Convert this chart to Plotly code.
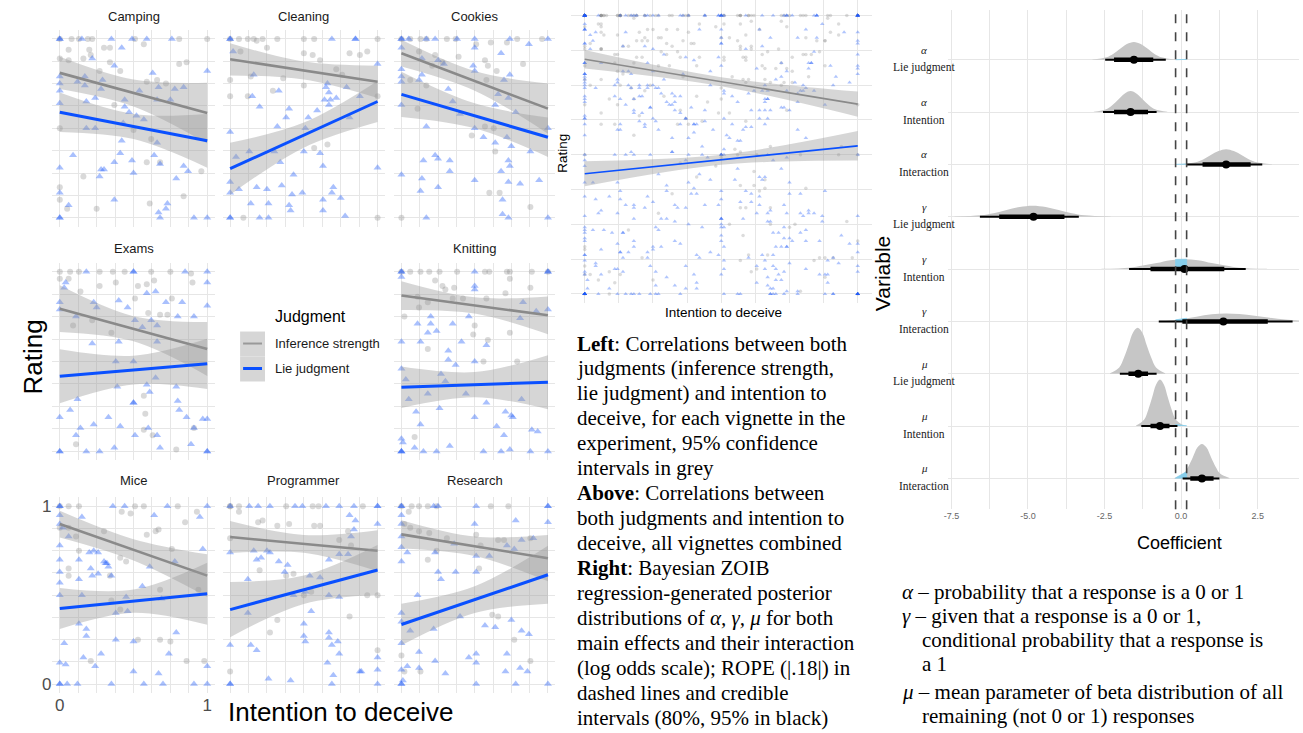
import plotly.graph_objects as go

W, H = 1303, 733

# ---------------- facet data (x = intention to deceive, y = rating) ----------------
vignettes = ["Camping", "Cleaning", "Cookies", "Exams", "Knitting", "Mice", "Programmer", "Research"]
panel_row = [0, 0, 0, 1, 1, 2, 2, 2]
panel_col = [0, 1, 2, 0, 2, 0, 1, 2]

camping_lie = [(0,1),(0,1),(0.15,1),(0.35,1),(0.49,1),(0.59,1),(0.76,1),(0.42,0.95),(0.22,0.89),(0.37,0.85),(0.63,0.81),(1,0.82),(0,0.79),(0,0.75),(0,0.71),(0,0.64),(0.17,0.79),(0.29,0.77),(0.12,0.76),(0.17,0.74),(0.24,0.67),(0.18,0.65),(0.28,0.72),(0.54,0.71),(0.67,0.73),(0.78,0.72),(0.84,0.73),(0.66,0.66),(0.75,0.66),(0.44,0.66),(0.44,0.62),(0.47,0.59),(0.52,0.57),(0.57,0.55),(0.43,0.53),(0.18,0.50),(0.24,0.50),(0.42,0.43),(0.66,0.42),(0.64,0.35),(0.68,0.30),(0.41,0.36),(0.37,0.31),(0.49,0.32),(0.09,0.35),(0,0.28),(0.28,0.27),(0.27,0.23),(0.30,0.27),(0.50,0.25),(0.84,0.29),(0.87,0.26),(0.79,0.22),(0,0.14),(0.06,0.07),(0.37,0.10),(0.73,0.08),(0.72,0.05),(0.67,0.03),(0.68,0),(0,0),(0,0),(0.91,0),(1,0)]
camping_inf = [(0,1),(0.08,1),(0.13,1),(0.19,1),(0.22,1),(0.51,1),(1,1),(0.81,1),(0.06,0.94),(0.20,0.94),(0.30,0.95),(0.34,0.95),(0.57,0.97),(0,0.89),(0.06,0.88),(0.16,0.89),(0.21,0.91),(0.34,0.87),(0.41,0.82),(0.81,0.86),(0.86,0.87),(0.27,0.82),(0.59,0.76),(0.66,0.77),(0.72,0.75),(0.37,0.63),(0,0.50),(0.50,0.49),(0.62,0.44),(0.59,0.31),(0.68,0.31),(0.16,0.23),(0.96,0.26),(0,0.17),(0,0.10),(0.84,0.12),(0.05,0.05),(0.25,0.05),(0.61,0.08)]

cleaning_lie = [(0,1),(0,1),(0.69,1),(0.85,1),(0.85,1),(1,0.86),(0.02,0.93),(0.16,0.80),(0.33,0.71),(0.15,0.68),(0.20,0.62),(0.38,0.56),(0.40,0.61),(0.32,0.51),(0.51,0.50),(0.53,0.56),(0.59,0.60),(0.65,0.73),(0.67,0.70),(0.68,0.66),(0.67,0.63),(0.72,0.67),(0.79,0.73),(0.81,0.56),(0.88,0.68),(0,0.48),(0.04,0.34),(0.13,0.37),(0.30,0.37),(0.34,0.31),(0.43,0.24),(0.50,0.37),(0.61,0.36),(0.63,0.29),(0,0.20),(0,0.14),(0.06,0.16),(0.18,0.17),(0.25,0.16),(0.35,0.18),(0.42,0.13),(0.49,0.14),(0.69,0.14),(0.70,0.17),(0.75,0.11),(0.63,0.10),(0.14,0.08),(0.26,0.08),(0.40,0.07),(0.41,0.04),(0.63,0.04),(0,0),(0,0),(0.20,0),(0.26,0),(0.78,0.01),(1,0.28),(0.66,0.75),(0.64,0.66)]
cleaning_inf = [(0,1),(0.06,1),(0.12,1),(0.16,1),(0.22,1),(0.32,1),(0.50,1),(0.57,1),(1,1),(0.07,0.93),(0.25,0.95),(0.18,0.99),(0.50,0.92),(0.56,0.91),(0.61,0.88),(0.81,0.92),(0.88,0.91),(0.93,0.93),(0,0.77),(0.14,0.79),(0.36,0.78),(0.29,0.71),(0.50,0.74),(0.72,0.83),(0.76,0.80),(0.66,0.41),(0.57,0.39),(0,0.68),(0.12,0.68),(1,0.68),(0.09,0),(1,0)]

cookies_lie = [(0,1),(0,1),(0.05,1),(0.17,1),(0.23,1),(0.38,1),(0.50,1),(0.74,1),(1,1),(0.87,0.97),(0.50,0.95),(0.68,0.92),(0,0.95),(0,0.83),(0,0.79),(0,0.76),(0,0.63),(0.14,0.89),(0.25,0.88),(0.29,0.86),(0.49,0.85),(0.14,0.80),(0.12,0.77),(0.32,0.72),(0.35,0.65),(0.40,0.58),(0.50,0.82),(0.66,0.69),(0.70,0.77),(0.74,0.80),(0.73,0.67),(0.64,0.63),(0.78,0.59),(0.17,0.51),(0.50,0.50),(0.56,0.45),(0.64,0.42),(0.72,0.45),(0.75,0.40),(0.88,0.37),(1,0.50),(0.15,0.32),(0.23,0.35),(0.25,0.33),(0.33,0.32),(0.33,0.26),(0.68,0.26),(0.73,0.32),(0.74,0.29),(0,0.24),(0.14,0.22),(0.13,0.15),(0.25,0.17),(0.50,0.21),(0.73,0.20),(0.81,0.19),(0.94,0.21),(0.69,0.10),(0.17,0),(0.69,0.02),(0.73,0),(1,0)]
cookies_inf = [(0,1),(0.06,1),(0.13,1),(0.17,1),(0.31,1),(0.37,1),(0.51,0.97),(0.61,0.98),(0.72,0.98),(0.79,1),(0.96,1),(0.12,0.93),(0.23,0.91),(0.39,0.90),(0.21,0.85),(0.28,0.87),(0.57,0.88),(0.59,0.85),(0.83,0.86),(0.65,0.82),(0.06,0.77),(0.17,0.74),(0.58,0.77),(0.11,0.61),(0.48,0.46),(0.57,0.51),(0.63,0.50),(0.64,0.37),(0.60,0.14),(0.67,0.14),(0.88,0.06),(0,0)]

exams_lie = [(0.18,1),(0.50,1),(0.50,1),(0.85,1),(1,1),(0.04,0.94),(1,0.94),(0.03,0.91),(0,0.83),(0,0.79),(0.11,0.75),(0.23,0.83),(0.25,0.80),(0.40,0.84),(0.46,0.80),(0.59,0.88),(0.65,0.89),(0.72,0.83),(0.83,0.83),(0.80,0.75),(0.91,0.75),(1,0.81),(0.51,0.73),(0.62,0.73),(0.66,0.70),(0.56,0.69),(0.22,0.60),(0.40,0.61),(0.66,0.61),(0.38,0.50),(0.50,0.50),(0.65,0.41),(0.39,0.36),(0.61,0.33),(0.59,0.37),(0.79,0.36),(0.50,0.27),(0.50,0.27),(0.12,0.29),(0.07,0.23),(0,0.19),(0.33,0.19),(0.80,0.28),(0.81,0.23),(0.86,0.19),(0.97,0.18),(1,0.18),(0.14,0.13),(0.11,0.09),(0.23,0.15),(0.41,0.14),(0.51,0.09),(0.60,0.13),(0.66,0.09),(0.91,0.13),(0,0),(0,0),(0.18,0),(0.27,0),(0.37,0.02),(0.68,0.02),(0.89,0.04),(1,0),(1,0)]
exams_inf = [(0,1),(0.07,1),(0.13,1),(0.27,1),(0.36,1),(0.44,1),(0.62,1),(0.75,1),(0,0.96),(0.06,0.96),(0.89,0.99),(0.90,0.94),(0.27,0.92),(0.38,0.94),(0.53,0.92),(0.59,0.93),(0.64,0.95),(0.14,0.89),(0.51,0.85),(0.76,0.85),(0.09,0.70),(0.22,0.73),(0.35,0.66),(0.60,0.77),(0.68,0.76),(0.73,0.76),(0.57,0.31),(0.58,0.21),(0.63,0.09),(0.57,0.12),(0.11,0.04),(0.79,0.01),(0.91,0.13)]

knitting_lie = [(0,1),(0,1),(0,0.97),(0.50,1),(1,1),(1,1),(0.50,0.92),(0.50,0.90),(0.83,0.83),(1,0.79),(0.92,0.78),(0.81,0.74),(0.46,0.75),(0.20,0.75),(0.11,0.71),(0.20,0.71),(0.18,0.66),(0.24,0.67),(0.35,0.71),(0,0.61),(0.13,0.61),(0.41,0.61),(0.58,0.59),(0.32,0.56),(0.32,0.51),(0.37,0.48),(0.50,0.50),(0,0.46),(0.03,0.40),(0.27,0.43),(0.30,0.39),(0.18,0.32),(0.05,0.29),(0.44,0.32),(0.58,0.27),(0.82,0.29),(0.10,0.22),(0.26,0.24),(0.50,0.19),(0.71,0.22),(0.75,0.20),(0.76,0.19),(0.13,0.15),(0.65,0.14),(0.70,0.09),(0.89,0.12),(0.93,0.11),(0,0.07),(0.01,0.05),(0.09,0.02),(0.33,0.03),(0,0),(0,0),(0,0),(0.15,0),(0.24,0),(0.56,0),(0.68,0),(0.74,0.01),(0.88,0),(1,0)]
knitting_inf = [(0,1),(0.06,1),(0.13,1),(0.19,1),(0.26,1),(0.38,1),(0.57,1),(0.60,1),(0.72,1),(0.74,1),(0.89,1),(1,1),(0.23,0.95),(0.28,0.92),(0.30,0.90),(0.36,0.91),(0.71,0.88),(0.74,0.96),(0.88,0.91),(0.11,0.86),(0.18,0.83),(0.12,0.80),(0.35,0.85),(0.42,0.85),(0.58,0.85),(0.02,0.75),(0.50,0.70),(0.49,0.65),(0.74,0.66),(0.59,0.62),(0.18,0.57),(0.56,0.50),(0.79,0.50),(0.09,0.08)]

mice_lie = [(0,1),(0,1),(0.36,1),(0.44,1),(0.73,1),(1,1),(0.15,0.94),(0.64,0.95),(0.95,0.94),(0,0.95),(0,0.90),(0.02,0.88),(0.06,0.83),(0,0.78),(0,0.70),(0,0.63),(0,0.57),(0,0.50),(0.13,0.70),(0.20,0.74),(0.23,0.75),(0.26,0.74),(0.31,0.68),(0.33,0.66),(0.30,0.69),(0.32,0.68),(0.21,0.65),(0.22,0.61),(0.13,0.59),(0.15,0.50),(0.26,0.62),(0.35,0.61),(0.56,0.55),(0.61,0.66),(0.78,0.69),(0.97,0.76),(0.45,0.49),(0.46,0.41),(0.38,0.40),(0.69,0.48),(0.13,0.34),(0.18,0.31),(0.18,0.27),(0.03,0.23),(0.38,0.25),(0.50,0.24),(0.79,0.29),(0.28,0.17),(0.16,0.15),(0.24,0.10),(0,0.12),(0.04,0.11),(0.74,0.17),(0.50,0.07),(0.67,0.06),(1,0.10),(0,0),(0,0),(0.05,0),(0.12,0),(0.35,0),(0.57,0),(0.70,0),(0.91,0),(1,0)]
mice_inf = [(0,1),(0.06,1),(0.13,1),(0.51,1),(0.57,1),(0.80,1),(0.42,0.97),(0.48,0.96),(0.93,0.97),(0,0.88),(0.06,0.88),(0.11,0.83),(0.30,0.86),(0.59,0.84),(0.65,0.86),(0.67,0.87),(0.85,0.91),(0.13,0.75),(0.06,0.65),(0.06,0.61),(0.34,0.61),(0.41,0.71),(0.45,0.69),(0.76,0.76),(0.68,0.53),(0.94,0.53),(0.35,0.47),(0.41,0.42),(0.53,0.25),(0.68,0.25),(0.75,0.24),(0.21,0.13),(0.86,0.13),(0.98,0.13)]

programmer_lie = [(0,1),(0.13,1),(0.19,1),(0.27,1),(0.44,1),(0.49,1),(0.65,1),(0.74,1),(0.84,1),(1,1),(1,1),(0.81,0.95),(0.85,0.92),(1,0.90),(0.84,0.87),(0.82,0.83),(0,0.74),(0.16,0.75),(0.25,0.75),(0.27,0.74),(0.18,0.70),(0.21,0.71),(0.33,0.69),(0.39,0.67),(0.37,0.63),(0.54,0.61),(0.61,0.60),(0.67,0.70),(0.74,0.73),(0.80,0.73),(0.74,0.49),(0.67,0.50),(0.12,0.59),(0.12,0.40),(0.43,0.50),(0.51,0.52),(0.55,0.41),(0.50,0.34),(0.50,0.27),(0.51,0.24),(0.67,0.29),(0.67,0.26),(0.73,0.24),(0.69,0.22),(0.74,0.17),(0,0.22),(0.14,0.22),(0.18,0.19),(0.66,0.12),(0.70,0.05),(0.88,0.07),(0.89,0.07),(1,0.15),(1,0.08),(0,0),(0,0),(0.26,0.03),(0.41,0.02),(0.69,0),(1,0)]
programmer_inf = [(0,1),(0,1),(0.06,1),(0.38,1),(0.56,1),(0.60,1),(0.90,1),(0.06,0.97),(0.19,0.91),(0.22,0.92),(0.32,0.89),(0.40,0.90),(0.57,0.89),(0.61,0.89),(0.74,0.81),(0.82,0.78),(0.80,0.86),(0,0.82),(0.20,0.64),(0.38,0.61),(0.43,0.62),(0.50,0.50),(0.55,0.52),(0.32,0.36),(0.27,0.29),(0.81,0.38),(0.93,0.50),(1,0.50),(1,0.19),(0,0.07)]

research_lie = [(0,1),(0,1),(0.22,1),(0.25,1),(0.51,1),(1,1),(1,1),(0.50,0.90),(0.78,0.92),(1,0.91),(0,0.95),(0,0.90),(0,0.83),(0,0.77),(0,0.69),(0.04,0.74),(0.23,0.74),(0.36,0.79),(0.51,0.72),(0.60,0.72),(0.72,0.78),(0.82,0.81),(0.90,0.82),(0.77,0.76),(0.25,0.63),(0.37,0.63),(0.27,0.59),(0.11,0.50),(0.51,0.63),(0,0.40),(0,0.35),(0.06,0.30),(0.22,0.31),(0.40,0.38),(0.57,0.33),(0.75,0.36),(0.64,0.32),(0.82,0.30),(0.87,0.28),(0,0.23),(0.12,0.18),(0.23,0.13),(0.51,0.17),(0.51,0.12),(0.46,0.15),(0.72,0.17),(0.81,0.09),(0.86,0.07),(0.71,0.07),(0,0.08),(0.04,0.10),(0.12,0.09),(0.30,0.06),(0.51,0),(0.78,0),(1,0),(0,0),(0,0),(0.01,0.02)]
research_inf = [(0,1),(0.07,1),(0.12,1),(0.18,1),(0.24,1),(0.61,1),(0.73,1),(0.05,0.97),(0.02,0.90),(0.06,0.88),(0.12,0.86),(0.19,0.85),(0.31,0.82),(0.51,0.84),(0.66,0.81),(0.70,0.81),(0.88,0.82),(0.54,0.78),(0.18,0.70),(0.24,0.75),(0.53,0.65),(0.62,0.39),(0.66,0.38),(0.77,0.25),(0.88,0.13),(0,0.16),(0.02,0.07),(0.13,0.07)]

lie_points = [camping_lie, cleaning_lie, cookies_lie, exams_lie, knitting_lie, mice_lie, programmer_lie, research_lie]
inf_points = [camping_inf, cleaning_inf, cookies_inf, exams_inf, knitting_inf, mice_inf, programmer_inf, research_inf]

# linear fits per vignette (value at x=0, at x=1) and 95% CI half-widths at x = 0, 0.5, 1
inf_at0 = [0.81, 0.886, 0.92, 0.794, 0.867, 0.90, 0.827, 0.842]
inf_at1 = [0.585, 0.76, 0.61, 0.57, 0.757, 0.61, 0.75, 0.708]
inf_ci0 = [0.09, 0.09, 0.075, 0.13, 0.08, 0.075, 0.09, 0.08]
inf_cimid = [0.075, 0.05, 0.055, 0.07, 0.045, 0.06, 0.05, 0.055]
inf_ci1 = [0.17, 0.09, 0.14, 0.15, 0.105, 0.12, 0.115, 0.13]
lie_at0 = [0.59, 0.274, 0.69, 0.418, 0.357, 0.425, 0.419, 0.335]
lie_at1 = [0.43, 0.65, 0.45, 0.487, 0.385, 0.508, 0.642, 0.615]
lie_ci0 = [0.11, 0.145, 0.127, 0.15, 0.115, 0.115, 0.155, 0.117]
lie_cimid = [0.07, 0.07, 0.07, 0.08, 0.07, 0.065, 0.08, 0.075]
lie_ci1 = [0.15, 0.115, 0.11, 0.14, 0.15, 0.175, 0.14, 0.163]

# all vignettes combined
all_inf_at0, all_inf_at1 = 0.843, 0.682
all_inf_ci = [0.033, 0.016, 0.045]
all_lie_at0, all_lie_at1 = 0.432, 0.532
all_lie_ci = [0.045, 0.018, 0.053]

facet_ticks = [0, 0.125, 0.25, 0.375, 0.5, 0.625, 0.75, 0.875, 1]
facet_ticktext = ["0", "", "", "", "", "", "", "", "1"]
band_x = [0, 0.5, 1]

# ---------------- ZOIB posterior data ----------------
coef_param = ["α", "α", "α", "γ", "γ", "γ", "μ", "μ", "μ"]
coef_term = ["Lie judgment", "Intention", "Interaction"] * 3
coef_median = [-1.54, -1.65, 1.47, -4.82, 0.11, 1.38, -1.40, -0.69, 0.68]
coef_lo80 = [-2.19, -2.19, 0.70, -5.94, -1.00, 0.04, -1.72, -1.00, 0.30]
coef_hi80 = [-0.91, -1.08, 2.27, -3.81, 1.41, 2.83, -1.08, -0.38, 1.06]
coef_lo95 = [-2.48, -2.55, 0.19, -6.57, -1.70, -0.73, -2.00, -1.30, 0.05]
coef_hi95 = [-0.50, -0.80, 2.65, -3.34, 2.11, 3.64, -0.80, -0.12, 1.25]
dens_x = [
    [-2.9, -2.44, -2.22, -1.99, -1.77, -1.54, -1.32, -1.09, -0.87, -0.64, -0.18],
    [-2.85, -2.45, -2.25, -2.05, -1.85, -1.65, -1.45, -1.25, -1.05, -0.85, -0.45],
    [-0.03, 0.47, 0.72, 0.97, 1.22, 1.47, 1.72, 1.97, 2.22, 2.47, 2.97],
    [-7.4, -6.55, -6.12, -5.7, -5.27, -4.85, -4.42, -4.0, -3.57, -3.15, -2.3],
    [-2.6, -1.7, -1.25, -0.8, -0.35, 0.1, 0.55, 1.0, 1.45, 1.9, 2.8],
    [-1.0, -0.5, 0.0, 0.5, 1.0, 1.45, 1.9, 2.4, 2.9, 3.4, 3.85],
    [-2.32, -2.02, -1.87, -1.72, -1.57, -1.42, -1.27, -1.12, -0.97, -0.82, -0.52],
    [-1.47, -1.21, -1.08, -0.95, -0.82, -0.69, -0.56, -0.43, -0.30, -0.17, 0.09],
    [-0.22, 0.08, 0.23, 0.38, 0.53, 0.68, 0.83, 0.98, 1.13, 1.28, 1.58],
]
dens_h = [
    [0.004, 0.046, 0.11, 0.21, 0.30, 0.34, 0.30, 0.21, 0.11, 0.046, 0.004],
    [0.005, 0.054, 0.13, 0.24, 0.35, 0.40, 0.35, 0.24, 0.13, 0.054, 0.005],
    [0.003, 0.04, 0.094, 0.18, 0.255, 0.29, 0.255, 0.18, 0.094, 0.04, 0.003],
    [0.004, 0.028, 0.068, 0.128, 0.185, 0.21, 0.185, 0.128, 0.068, 0.028, 0.004],
    [0.005, 0.025, 0.07, 0.115, 0.17, 0.19, 0.17, 0.115, 0.07, 0.025, 0.005],
    [0.0, 0.01, 0.04, 0.09, 0.135, 0.15, 0.14, 0.11, 0.07, 0.035, 0.015],
    [0.01, 0.12, 0.30, 0.54, 0.79, 0.88, 0.79, 0.54, 0.30, 0.12, 0.01],
    [0.01, 0.12, 0.30, 0.54, 0.79, 0.89, 0.79, 0.54, 0.30, 0.12, 0.01],
    [0.01, 0.09, 0.22, 0.40, 0.59, 0.66, 0.59, 0.40, 0.22, 0.09, 0.01],
]
rope = 0.18
rope_h_left = [0.0, 0.0, 0.0, 0.0, 0.185, 0.03, 0.0, 0.03, 0.01]
rope_h_right = [0.006, 0.0, 0.008, 0.0, 0.188, 0.06, 0.0, 0.005, 0.13]
coef_ticks = [-7.5, -6.25, -5.0, -3.75, -2.5, -1.25, 0.0, 1.25, 2.5]
coef_ticktext = ["-7.5", "", "-5.0", "", "-2.5", "", "0.0", "", "2.5"]

caption_lines = [
    "<b>Left</b>: Correlations between both",
    "judgments (inference strength,",
    "lie judgment) and intention to",
    "deceive, for each vignette in the",
    "experiment, 95% confidence",
    "intervals in grey",
    "<b>Above</b>: Correlations between",
    "both judgments and intention to",
    "deceive, all vignettes combined",
    "<b>Right</b>: Bayesian ZOIB",
    "regression-generated posterior",
    "distributions of <i>α, γ, μ</i> for both",
    "main effects and their interaction",
    "(log odds scale); ROPE (|.18|) in",
    "dashed lines and credible",
    "intervals (80%, 95% in black)",
]
glossary_lines = [
    "<i>α</i> – probability that a response is a 0 or 1",
    "<i>γ</i> – given that a response is a 0 or 1,",
    "conditional probability that a response is",
    "a 1",
    "<i>μ</i> – mean parameter of beta distribution of all",
    "remaining (not 0 or 1) responses",
]

# ---------------- styling / geometry ----------------
SANS = "Liberation Sans, Arial, sans-serif"
SERIF = "Liberation Serif, Times New Roman, serif"
GRID = "#e6e6e6"
GREY_PT = "rgba(128,128,128,0.30)"
BLUE_PT = "rgba(30,90,250,0.38)"
GREY_LINE = "#8a8a8a"
BLUE_LINE = "#0a50ff"
BAND = "rgba(153,153,153,0.40)"

col_left = [47.6, 218.6, 390.6]
col_right = [210.4, 381.4, 552.4]
row_top = [30.0, 263.0, 498.1]
row_bottom = [227.0, 461.0, 693.9]
title_y = [17, 249, 481]


def px_x(p):
    return p / W


def px_y(p):
    return 1 - p / H


def names(i):
    s = "" if i == 1 else str(i)
    return "x" + s, "y" + s, "xaxis" + s, "yaxis" + s


fig = go.Figure()
layout = {}
annotations = []
shapes = []


def add_fit(xa, ya, at0, at1, ci, color, width):
    mid = (at0 + at1) / 2
    fit = [at0, mid, at1]
    lower = [f - c for f, c in zip(fit, ci)]
    upper = [f + c for f, c in zip(fit, ci)]
    fig.add_trace(go.Scatter(x=band_x, y=lower, xaxis=xa, yaxis=ya, mode="lines",
                             line=dict(width=0, shape="spline"), hoverinfo="skip"))
    fig.add_trace(go.Scatter(x=band_x, y=upper, xaxis=xa, yaxis=ya, mode="lines",
                             line=dict(width=0, shape="spline"), fill="tonexty",
                             fillcolor=BAND, hoverinfo="skip"))
    fig.add_trace(go.Scatter(x=[0, 1], y=[at0, at1], xaxis=xa, yaxis=ya, mode="lines",
                             line=dict(color=color, width=width), hoverinfo="skip"))


def add_points(xa, ya, pts, symbol, color, size):
    fig.add_trace(go.Scatter(x=[p[0] for p in pts], y=[p[1] for p in pts], xaxis=xa, yaxis=ya,
                             mode="markers", marker=dict(symbol=symbol, color=color, size=size,
                                                         line=dict(width=0)), hoverinfo="skip"))


# ---------------- facets ----------------
for k, name in enumerate(vignettes):
    i = k + 1
    xa, ya, xk, yk = names(i)
    r, c = panel_row[k], panel_col[k]
    lab = name == "Mice"
    common = dict(range=[-0.05, 1.05], tickvals=facet_ticks, ticktext=facet_ticktext,
                  showgrid=True, gridcolor=GRID, gridwidth=1, zeroline=False, showline=False,
                  ticks="", showticklabels=lab, fixedrange=True,
                  tickfont=dict(family=SANS, size=17, color="#4d4d4d"))
    layout[xk] = dict(domain=[px_x(col_left[c]), px_x(col_right[c])], anchor=ya, **common)
    layout[yk] = dict(domain=[px_y(row_bottom[r]), px_y(row_top[r])], anchor=xa, **common)
    add_points(xa, ya, inf_points[k], "circle", GREY_PT, 6)
    add_points(xa, ya, lie_points[k], "triangle-up", BLUE_PT, 7)
    add_fit(xa, ya, inf_at0[k], inf_at1[k], [inf_ci0[k], inf_cimid[k], inf_ci1[k]], GREY_LINE, 2.6)
    add_fit(xa, ya, lie_at0[k], lie_at1[k], [lie_ci0[k], lie_cimid[k], lie_ci1[k]], BLUE_LINE, 3)
    annotations.append(dict(text=name, x=px_x((col_left[c] + col_right[c]) / 2), y=px_y(title_y[r]),
                            xref="paper", yref="paper", showarrow=False, xanchor="center",
                            yanchor="middle", font=dict(family=SANS, size=13, color="#1a1a1a")))

annotations.append(dict(text="Rating", x=px_x(28), y=px_y(357), xref="paper", yref="paper",
                        showarrow=False, textangle=-90, xanchor="center", yanchor="middle",
                        font=dict(family=SANS, size=26, color="#000")))
annotations.append(dict(text="Intention to deceive", x=px_x(337), y=px_y(713), xref="paper",
                        yref="paper", showarrow=False, xanchor="center", yanchor="middle",
                        font=dict(family=SANS, size=26, color="#000")))

# legend (drawn in the empty facet cell)
annotations.append(dict(text="Judgment", x=px_x(269), y=px_y(317), xref="paper", yref="paper",
                        showarrow=False, xanchor="left", yanchor="middle",
                        font=dict(family=SANS, size=16, color="#000")))
for j, (lbl, col, lw) in enumerate([("Inference strength", "#999999", 2), ("Lie judgment", BLUE_LINE, 3)]):
    top = 332 + 25 * j
    shapes.append(dict(type="rect", xref="paper", yref="paper", x0=px_x(236), x1=px_x(261),
                       y0=px_y(top + 25), y1=px_y(top), fillcolor="#d6d6d6", line=dict(width=0),
                       layer="below"))
    shapes.append(dict(type="line", xref="paper", yref="paper", x0=px_x(239), x1=px_x(258),
                       y0=px_y(top + 12), y1=px_y(top + 12), line=dict(color=col, width=lw)))
    annotations.append(dict(text=lbl, x=px_x(269), y=px_y(top + 12), xref="paper", yref="paper",
                            showarrow=False, xanchor="left", yanchor="middle",
                            font=dict(family=SANS, size=13, color="#1a1a1a")))

# ---------------- combined panel ----------------
xa, ya, xk, yk = "x9", "y9", "xaxis9", "yaxis9"
common9 = dict(tickvals=facet_ticks, showgrid=True, gridcolor=GRID, gridwidth=1, zeroline=False,
               showline=False, ticks="", showticklabels=False, fixedrange=True)
layout[xk] = dict(domain=[px_x(568), px_x(870)], anchor=ya, range=[-0.051, 1.051], **common9)
layout[yk] = dict(domain=[px_y(303), px_y(0)], anchor=xa, range=[-0.031, 1.056], **common9)
all_inf = [p for pts in inf_points for p in pts]
all_lie = [p for pts in lie_points for p in pts]
add_points(xa, ya, all_inf, "circle", "rgba(128,128,128,0.28)", 3.5)
add_points(xa, ya, all_lie, "triangle-up", "rgba(30,90,250,0.35)", 4)
add_fit(xa, ya, all_inf_at0, all_inf_at1, all_inf_ci, GREY_LINE, 1.6)
add_fit(xa, ya, all_lie_at0, all_lie_at1, all_lie_ci, BLUE_LINE, 1.6)
annotations.append(dict(text="Intention to deceive", x=px_x(721), y=px_y(313), xref="paper",
                        yref="paper", showarrow=False, xanchor="center", yanchor="middle",
                        font=dict(family=SANS, size=13.5, color="#000")))
annotations.append(dict(text="Rating", x=px_x(560), y=px_y(153), xref="paper", yref="paper",
                        showarrow=False, textangle=-90, xanchor="center", yanchor="middle",
                        font=dict(family=SANS, size=13.5, color="#000")))

# ---------------- caption text ----------------
for j, line in enumerate(caption_lines):
    annotations.append(dict(text=line, x=px_x(572), y=px_y(344 + 25 * j), xref="paper", yref="paper",
                            showarrow=False, xanchor="left", yanchor="middle",
                            font=dict(family=SERIF, size=21, color="#000")))

gl_x = [898, 898, 919, 919, 898, 919]
gl_y = [593, 617, 641, 665, 693, 717]
for line, gx, gy in zip(glossary_lines, gl_x, gl_y):
    annotations.append(dict(text=line, x=px_x(gx), y=px_y(gy), xref="paper", yref="paper",
                            showarrow=False, xanchor="left", yanchor="middle",
                            font=dict(family=SERIF, size=21, color="#000")))

# ---------------- ZOIB posterior panel ----------------
xa, ya, xk, yk = "x10", "y10", "xaxis10", "yaxis10"
n = len(coef_param)
row_pos = [n - j for j in range(n)]
layout[xk] = dict(domain=[px_x(947), px_x(1299)], anchor=ya, range=[-7.6, 3.85],
                  tickvals=coef_ticks, ticktext=coef_ticktext, showgrid=True, gridcolor=GRID,
                  gridwidth=1, zeroline=False, showline=False, ticks="", fixedrange=True,
                  tickfont=dict(family=SANS, size=9, color="#666"))
layout[yk] = dict(domain=[px_y(510), px_y(10)], anchor=xa, range=[0.41, 9.95],
                  tickvals=row_pos, showticklabels=False, showgrid=True, gridcolor=GRID,
                  gridwidth=1, zeroline=False, showline=False, ticks="", fixedrange=True)

for j in range(n):
    b = row_pos[j]
    xs = dens_x[j]
    fig.add_trace(go.Scatter(x=[xs[0], xs[-1]], y=[b, b], xaxis=xa, yaxis=ya, mode="lines",
                             line=dict(width=0), hoverinfo="skip"))
    fig.add_trace(go.Scatter(x=xs, y=[b + h for h in dens_h[j]], xaxis=xa, yaxis=ya, mode="lines",
                             line=dict(width=0, shape="spline"), fill="tonexty",
                             fillcolor="#c6c6c6", hoverinfo="skip"))
    if rope_h_left[j] > 0 or rope_h_right[j] > 0:
        fig.add_trace(go.Scatter(x=[-rope, -rope, rope, rope],
                                 y=[b, b + rope_h_left[j], b + rope_h_right[j], b],
                                 xaxis=xa, yaxis=ya, mode="lines", fill="toself",
                                 fillcolor="#87ceeb", line=dict(width=0.8, color="#87ceeb"),
                                 hoverinfo="skip"))

for lo, hi, w in [(coef_lo95, coef_hi95, 2), (coef_lo80, coef_hi80, 4.5)]:
    xs, ys = [], []
    for j in range(n):
        xs += [lo[j], hi[j], None]
        ys += [row_pos[j], row_pos[j], None]
    fig.add_trace(go.Scatter(x=xs, y=ys, xaxis=xa, yaxis=ya, mode="lines",
                             line=dict(color="#000", width=w), hoverinfo="skip"))
fig.add_trace(go.Scatter(x=coef_median, y=row_pos, xaxis=xa, yaxis=ya, mode="markers",
                         marker=dict(color="#000", size=8), hoverinfo="skip"))

for v in (-rope, rope):
    shapes.append(dict(type="line", xref=xa, yref="y10 domain", x0=v, x1=v, y0=0, y1=1,
                       line=dict(color="#444", width=1.6, dash="dash")))

for j in range(n):
    annotations.append(dict(text="<i>" + coef_param[j] + "</i>", x=px_x(923), xref="paper",
                            y=row_pos[j], yref=ya, yshift=10, showarrow=False, xanchor="center",
                            yanchor="middle", font=dict(family=SERIF, size=11, color="#222")))
    annotations.append(dict(text=coef_term[j], x=px_x(923), xref="paper", y=row_pos[j], yref=ya,
                            yshift=-8, showarrow=False, xanchor="center", yanchor="middle",
                            font=dict(family=SERIF, size=11.5, color="#222")))

annotations.append(dict(text="Variable", x=px_x(881), y=px_y(274), xref="paper", yref="paper",
                        showarrow=False, textangle=-90, xanchor="center", yanchor="middle",
                        font=dict(family=SANS, size=21, color="#000")))
annotations.append(dict(text="Coefficient", x=px_x(1179), y=px_y(544), xref="paper", yref="paper",
                        showarrow=False, xanchor="center", yanchor="middle",
                        font=dict(family=SANS, size=18, color="#000")))

fig.update_layout(width=W, height=H, margin=dict(l=0, r=0, t=0, b=0), autosize=False,
                  paper_bgcolor="white", plot_bgcolor="white", showlegend=False,
                  annotations=annotations, shapes=shapes, **layout)

fig.write_html("out.html", include_plotlyjs=True, config={"displayModeBar": False, "staticPlot": True},
               post_script="document.body.style.margin='0';document.body.style.overflow='hidden';")
